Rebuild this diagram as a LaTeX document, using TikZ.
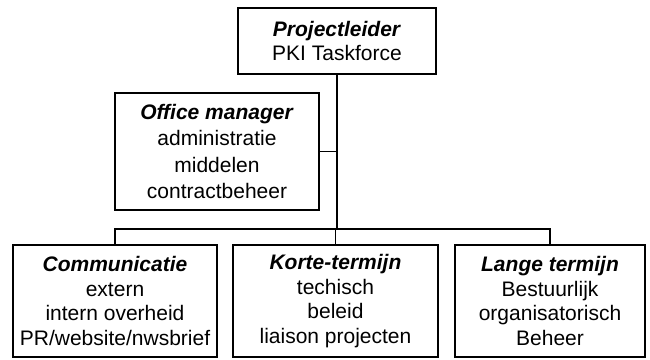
\documentclass[tikz,border=0pt]{standalone}
\usepackage{fontspec}
\setmainfont{Liberation Sans}
\usepackage{tikz}
\usetikzlibrary{positioning,calc}

\begin{document}
\begin{tikzpicture}[x=1pt, y=1pt,
  unit/.style={draw, line width=1.6pt, align=center, inner sep=0pt,
    font=\fontsize{21}{24.5}\selectfont},
  link/.style={line width=1.6pt}]
  \useasboundingbox (0,0) rectangle (650,-359);
  \node[unit, minimum width=198, minimum height=66] (lead) at (337,-41)
    {\textbf{\textit{Projectleider}}\\PKI Taskforce};
  \node[unit, minimum width=204, minimum height=117,
    font=\fontsize{21}{26.5}\selectfont] (office) at (217,-151.5)
    {\textbf{\textit{Office manager}}\\administratie\\middelen\\contractbeheer};
  \node[unit, minimum width=204, minimum height=112] (comm) at (115,-301)
    {\textbf{\textit{Communicatie}}\\extern\\intern overheid\\PR/website/nwsbrief};
  \node[unit, minimum width=205, minimum height=112] (kort) at (335.5,-301)
    {\textbf{\textit{Korte-termijn}}\\techisch\\beleid\\liaison projecten};
  \node[unit, minimum width=190, minimum height=112] (lang) at (550,-301)
    {\textbf{\textit{Lange termijn}}\\Bestuurlijk\\organisatorisch\\Beheer};
  \coordinate (bus) at (337,-229);
  \draw[link] (lead.south) -- (bus);
  \draw[link] (office.east) -- (office.east -| lead.south);
  \draw[link] (comm.north) |- (bus) -| (lang.north);
  \draw[link] (kort.north) -- (kort.north |- bus);
\end{tikzpicture}
\end{document}
